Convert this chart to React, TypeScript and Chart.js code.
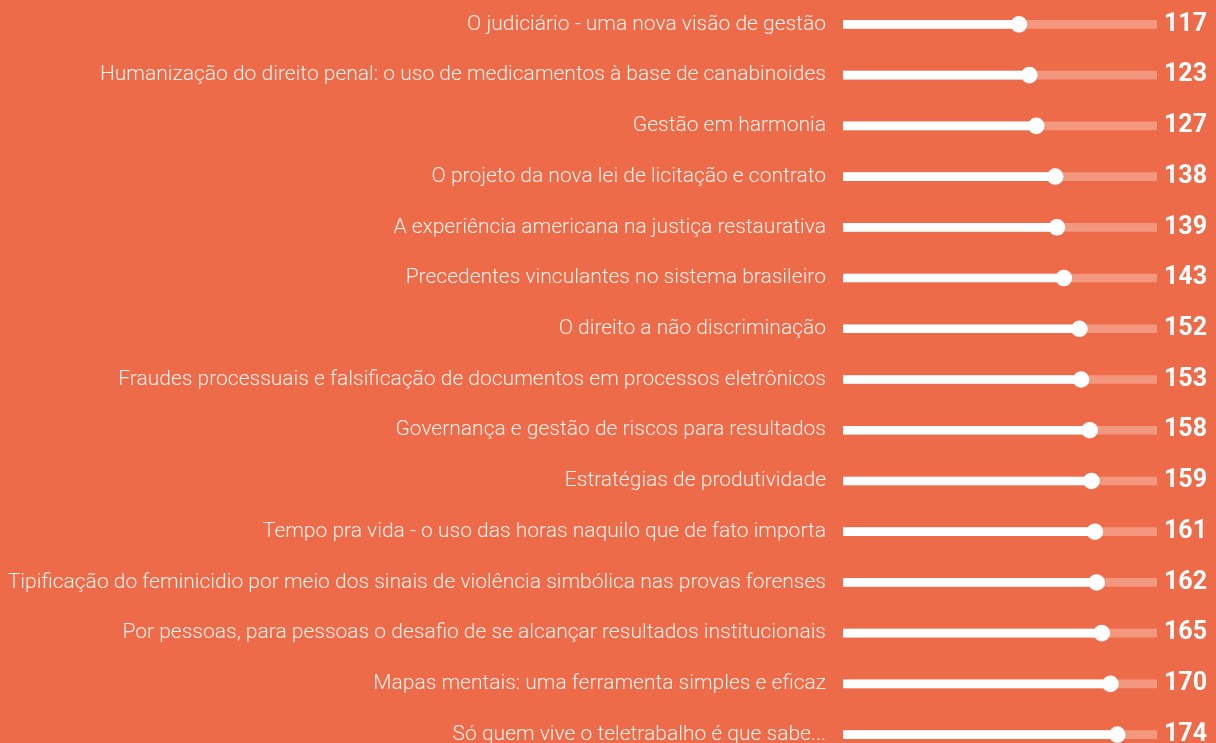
import React, { useEffect, useRef } from "react";
import { Chart, registerables } from "chart.js";

Chart.register(...registerables);

const categories: string[] = [
  "O judiciário - uma nova visão de gestão",
  "Humanização do direito penal: o uso de medicamentos à base de canabinoides",
  "Gestão em harmonia",
  "O projeto da nova lei de licitação e contrato",
  "A experiência americana na justiça restaurativa",
  "Precedentes vinculantes no sistema brasileiro",
  "O direito a não discriminação",
  "Fraudes processuais e falsificação de documentos em processos eletrônicos",
  "Governança e gestão de riscos para resultados",
  "Estratégias de produtividade",
  "Tempo pra vida - o uso das horas naquilo que de fato importa",
  "Tipificação do feminicidio por meio dos sinais de violência simbólica nas provas forenses",
  "Por pessoas, para pessoas o desafio de se alcançar resultados institucionais",
  "Mapas mentais: uma ferramenta simples e eficaz",
  "Só quem vive o teletrabalho é que sabe...",
];

const values: number[] = [117, 123, 127, 138, 139, 143, 152, 153, 158, 159, 161, 162, 165, 170, 174];

const valueLabels: string[] = values.map((v) => String(v));

const AXIS_MIN = 15;
const AXIS_MAX = 197;

const BG = "#EE6B4A";
const TRACK = "#F4977F";

export default function App() {
  const ref = useRef<HTMLCanvasElement | null>(null);

  useEffect(() => {
    if (!ref.current) return;
    const chart = new Chart(ref.current, {
      type: "bar",
      data: {
        labels: categories,
        datasets: [
          {
            type: "bar",
            data: categories.map(() => AXIS_MAX),
            backgroundColor: TRACK,
            barThickness: 8,
            grouped: false,
            order: 3,
          } as any,
          {
            type: "bar",
            data: values,
            backgroundColor: "#FFFFFF",
            barThickness: 8,
            grouped: false,
            order: 2,
          } as any,
          {
            type: "line",
            data: values,
            showLine: false,
            pointRadius: 8.3,
            pointHoverRadius: 8.3,
            pointBackgroundColor: "#FFFFFF",
            pointBorderWidth: 0,
            order: 1,
            clip: false,
          } as any,
        ],
      },
      options: {
        indexAxis: "y",
        animation: false,
        responsive: false,
        maintainAspectRatio: false,
        layout: { padding: 0, autoPadding: false },
        plugins: {
          legend: { display: false },
          tooltip: { enabled: false },
        },
        scales: {
          x: {
            display: false,
            min: AXIS_MIN,
            max: AXIS_MAX,
          },
          y: {
            position: "left",
            offset: true,
            grid: { display: false, drawTicks: false },
            border: { display: false },
            ticks: {
              color: "#FFF1EB",
              padding: 17,
              autoSkip: false,
              font: { family: "Roboto", weight: "300", size: 21 },
            },
            afterFit: (scale: any) => {
              scale.width = 843;
              scale.paddingTop = 0;
              scale.paddingBottom = 0;
            },
          },
          y2: {
            type: "category",
            position: "right",
            labels: valueLabels,
            offset: true,
            grid: { display: false, drawTicks: false },
            border: { display: false },
            ticks: {
              color: "#FFFFFF",
              padding: 7,
              autoSkip: false,
              font: { family: "Roboto", weight: "bold", size: 25 },
            },
            afterFit: (scale: any) => {
              scale.width = 59;
              scale.paddingTop = 0;
              scale.paddingBottom = 0;
            },
          },
        },
      } as any,
    });
    return () => chart.destroy();
  }, []);

  return (
    <div style={{ position: "fixed", left: 0, top: 0, right: 0, bottom: 0, background: BG, overflow: "hidden" }}>
      <div style={{ position: "absolute", left: 0, top: -1, width: 1216, height: 761 }}>
        <canvas ref={ref} width={1216} height={761} style={{ display: "block", width: 1216, height: 761 }} />
      </div>
    </div>
  );
}
